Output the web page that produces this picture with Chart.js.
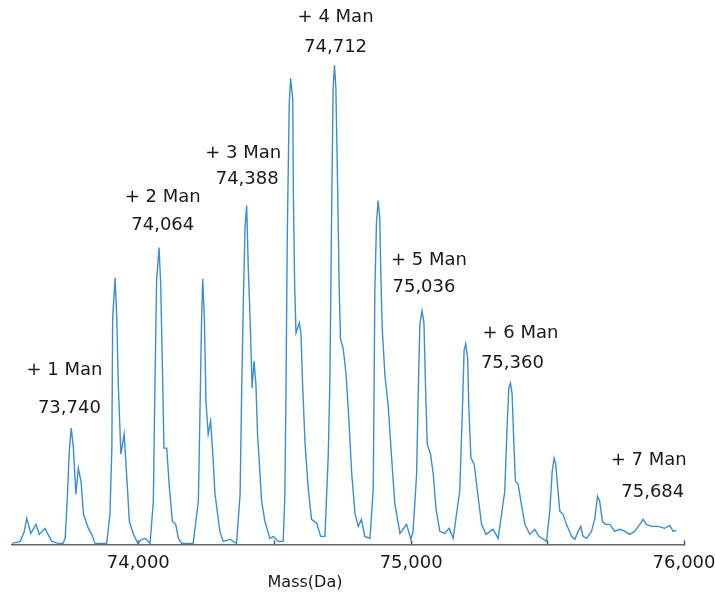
<!DOCTYPE html>
<html>
<head>
<meta charset="utf-8">
<script src="https://cdn.jsdelivr.net/npm/chart.js@4.4.1/dist/chart.umd.min.js"></script>
<style>
  html, body { margin: 0; padding: 0; background: #fff; }
  #wrap { width: 715px; height: 599px; }
</style>
</head>
<body>
<div id="wrap"><canvas id="spectrum" width="715" height="599"></canvas></div>
<script>
// deconvoluted mass spectrum (mass in Da, relative intensity)
const massDa = [
  73537, 73567, 73581, 73591, 73606, 73625, 73637, 73658, 73669, 73683, 73706, 73724,
  73732, 73740, 73747, 73754, 73762, 73771, 73780, 73790, 73799, 73817, 73829, 73841,
  73884, 73896, 73903, 73906, 73915, 73921, 73927, 73936, 73948, 73958, 73967, 73982,
  73998, 74012, 74025, 74043, 74055, 74061, 74067, 74076, 74082, 74088, 74094, 74104,
  74114, 74125, 74137, 74147, 74159, 74201, 74220, 74226, 74232, 74236, 74242, 74248,
  74256, 74265, 74273, 74281, 74299, 74311, 74336, 74360, 74373, 74379, 74385, 74391,
  74397, 74403, 74409, 74417, 74424, 74431, 74437, 74452, 74464, 74482, 74495, 74513,
  74531, 74537, 74541, 74546, 74553, 74558, 74566, 74568, 74573, 74578, 74590, 74596,
  74602, 74611, 74623, 74635, 74654, 74668, 74684, 74696, 74702, 74708, 74714, 74719,
  74724, 74730, 74736, 74741, 74751, 74761, 74771, 74782, 74794, 74806, 74818, 74830,
  74849, 74861, 74867, 74873, 74879, 74885, 74889, 74894, 74904, 74916, 74928, 74940,
  74959, 74983, 74999, 75007, 75020, 75026, 75032, 75040, 75047, 75053, 75059, 75071,
  75081, 75091, 75105, 75123, 75139, 75154, 75178, 75188, 75194, 75200, 75207, 75211,
  75219, 75231, 75243, 75258, 75274, 75300, 75319, 75343, 75352, 75358, 75364, 75370,
  75376, 75382, 75392, 75404, 75417, 75435, 75453, 75468, 75496, 75508, 75517, 75524,
  75530, 75536, 75545, 75557, 75569, 75588, 75600, 75612, 75622, 75630, 75643, 75661,
  75673, 75683, 75691, 75701, 75712, 75728, 75746, 75764, 75783, 75801, 75819, 75838,
  75850, 75862, 75881, 75905, 75929, 75948, 75960, 75972
];
const intensity = [
  1, 3, 12, 26, 11, 20, 10, 16, 10, 3, 1, 1,
  6, 48, 93, 116, 96, 50, 76, 63, 30, 16, 10, 1,
  1, 30, 96, 226, 266, 226, 156, 90, 110, 66, 23, 10,
  1, 5, 6, 1, 43, 160, 263, 296, 260, 180, 96, 96,
  56, 23, 20, 6, 1, 1, 43, 133, 226, 265, 226, 143,
  110, 123, 90, 50, 13, 3, 5, 1, 50, 156, 243, 316,
  338, 276, 230, 156, 183, 160, 110, 43, 23, 6, 8, 3,
  3, 48, 148, 308, 438, 465, 445, 355, 258, 211, 221, 211,
  161, 101, 55, 25, 21, 8, 8, 88, 161, 318, 455, 478,
  455, 365, 258, 205, 195, 171, 128, 71, 31, 18, 25, 8,
  6, 55, 255, 321, 343, 325, 268, 215, 168, 138, 88, 41,
  11, 20, 5, 13, 70, 153, 220, 233, 220, 153, 100, 90,
  70, 36, 13, 11, 16, 6, 53, 136, 193, 200, 186, 140,
  86, 80, 53, 20, 10, 15, 6, 53, 120, 156, 161, 150,
  103, 63, 60, 40, 20, 10, 15, 8, 3, 33, 73, 86,
  80, 60, 33, 30, 20, 8, 5, 13, 18, 8, 6, 13,
  26, 48, 43, 23, 20, 20, 13, 15, 13, 10, 13, 20,
  25, 20, 18, 18, 16, 19, 13, 14
];

// annotated glycoforms
const peakMasses = [73740, 74064, 74388, 74712, 75036, 75360, 75684];
const peakNames = ['+ 1 Man', '+ 2 Man', '+ 3 Man', '+ 4 Man', '+ 5 Man', '+ 6 Man', '+ 7 Man'];
const peakLabelLevels = [174, 346, 390, 526, 283, 211, 84];

const tickValues = [74000, 74500, 75000, 75500, 76000];
const tickLabels = ['74,000', '', '75,000', '', '76,000'];
const axisTitle = 'Mass(Da)';

// pixel nudges for the two label lines: [dx name, dx mass, line gap]
const labelNudges = [[-3, 2, 38], [7, 7, 28], [-1, 3, 26], [3, 3, 30], [8, 3, 27], [11, 3, 30], [51, 55, 32]];

Chart.defaults.font.family = '"DejaVu Sans", sans-serif';

const peakLabels = {
  id: 'peakLabels',
  afterDatasetsDraw(chart) {
    const { ctx, chartArea } = chart;
    const x = chart.scales.x, y = chart.scales.y;
    ctx.save();
    ctx.fillStyle = '#1a1a1a';
    ctx.font = '18px "DejaVu Sans"';
    ctx.textAlign = 'center';
    ctx.textBaseline = 'middle';
    peakMasses.forEach((m, i) => {
      const px = x.getPixelForValue(m);
      const py = y.getPixelForValue(peakLabelLevels[i]);
      const [dxName, dxMass, gap] = labelNudges[i];
      ctx.fillText(peakNames[i], px + dxName, py);
      ctx.fillText(m.toLocaleString('en-US'), px + dxMass, py + gap);
    });
    ctx.font = '16px "DejaVu Sans"';
    ctx.fillText(axisTitle, chartArea.left + chartArea.width * 0.436, 583);
    ctx.restore();
  }
};

new Chart(document.getElementById('spectrum'), {
  type: 'line',
  data: {
    datasets: [{
      data: massDa.map((m, i) => ({ x: m, y: intensity[i] })),
      borderColor: '#3a8ed3',
      borderWidth: 1.4,
      pointRadius: 0,
      tension: 0,
      fill: false
    }]
  },
  options: {
    responsive: false,
    animation: false,
    layout: { padding: { left: 12, right: 31, top: 0, bottom: 13 } },
    plugins: { legend: { display: false }, tooltip: { enabled: false } },
    scales: {
      x: {
        type: 'linear',
        min: 73537,
        max: 76000,
        afterBuildTicks: (scale) => { scale.ticks = tickValues.map(v => ({ value: v })); },
        // the label padding below would otherwise also widen the side margins
        afterFit: (scale) => { scale.paddingLeft = 0; scale.paddingRight = 31; },
        ticks: {
          callback: (v) => tickLabels[tickValues.indexOf(v)],
          color: '#1a1a1a',
          font: { size: 18 },
          padding: 12,
          maxRotation: 0,
          autoSkip: false
        },
        grid: { drawOnChartArea: false, tickLength: -4, tickColor: '#555', tickWidth: 1.5 },
        border: { color: '#666', width: 1.5 }
      },
      y: {
        display: false,
        min: 0,
        max: 543
      }
    }
  },
  plugins: [peakLabels]
});
</script>
</body>
</html>
